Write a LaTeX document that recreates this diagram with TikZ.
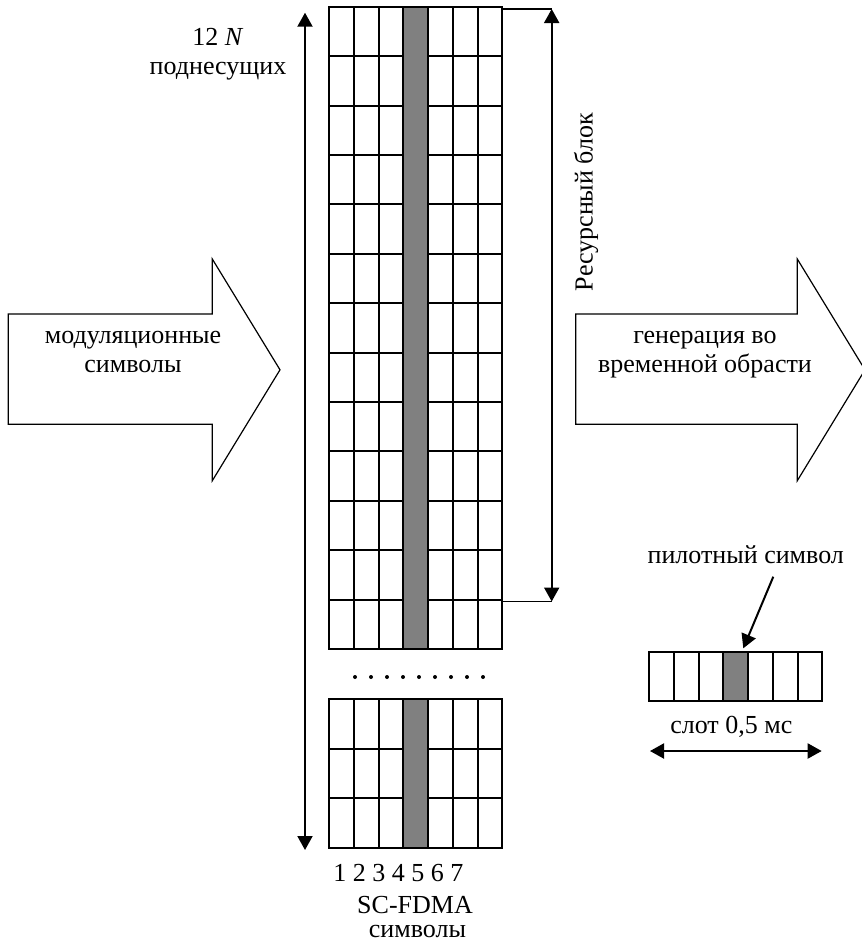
\documentclass[tikz,border=0pt]{standalone}
\usepackage{fontspec}
\setmainfont{Liberation Serif}
\usetikzlibrary{arrows.meta,calc}
\definecolor{pilotGray}{RGB}{128,128,128}
\tikzset{
  cell/.style={draw, line width=1pt},
  pilot/.style={draw, line width=1pt, fill=pilotGray},
  bigarrow/.style={draw, line width=0.6pt, fill=white},
  arrow/.style={-{Triangle[length=7pt,width=7.5pt]}, line width=1pt},
  dblarrow/.style={{Triangle[length=7pt,width=7.5pt]}-{Triangle[length=7pt,width=7.5pt]}, line width=1pt},
  tick/.style={line width=0.6pt},
  txt/.style={align=center, font=\fontsize{13}{14.5}\selectfont, inner sep=0pt}
}

\begin{document}
\begin{tikzpicture}[x=0.5pt,y=-0.5pt]
  \useasboundingbox (0,0) rectangle (862,950);

  \draw[bigarrow] (8.3,314) -- (212.3,314) -- (212.3,259) -- (280,369.8) -- (212.3,480.7) -- (212.3,424.3) -- (8.3,424.3) -- cycle;
  \draw[bigarrow] (575.7,314) -- (797.3,314) -- (797.3,259) -- (865,369.8) -- (797.3,480.7) -- (797.3,424.3) -- (575.7,424.3) -- cycle;
  \node[txt] (modsym) at (133,351.5) {модуляционные\\символы};
  \node[txt] (gentime) at (705,354.4) {генерация во\\временной обрасти};

  \foreach \r in {0,...,12}
    \foreach \c in {0,...,6}
      \draw[cell] ({329.3+24.7*\c},{6.7+49.4*\r}) rectangle ++(24.7,49.4);
  \draw[pilot] (403.4,6.7) rectangle (428.1,648.9);
  \foreach \r in {0,...,2}
    \foreach \c in {0,...,6}
      \draw[cell] ({329.3+24.7*\c},{699+49.7*\r}) rectangle ++(24.7,49.7);
  \draw[pilot] (403.4,699) rectangle (428.1,848.1);
  \foreach \i in {0,...,8}
    \fill ({355+16*\i},677) circle (1pt);

  \coordinate (ntop) at (305,12.7);
  \coordinate (nbot) at (305,850);
  \draw[dblarrow] (ntop) -- (nbot);
  \node[txt] (subcar) at (218,53.7) {12 \textit{N}\\поднесущих};

  \coordinate (rbtop) at (502.2,9);
  \coordinate (rbbot) at (502.2,601.5);
  \draw[tick] (rbtop) -- ++(49.5,0) coordinate (rbtopR);
  \draw[tick] (rbbot) -- ++(49.5,0) coordinate (rbbotR);
  \draw[dblarrow] (rbtopR) -- (rbbotR);
  \node[txt, rotate=90] (rbtxt) at (586,202) {Ресурсный блок};

  \node[txt, anchor=base] (nums) at (398.3,881.7) {1 2 3 4 5 6 7};
  \node[txt, anchor=base] (scfdma) at (415,913) {SC-FDMA};
  \node[txt, anchor=base] (symtxt) at (417.5,937) {символы};

  \foreach \c in {0,...,6}
    \draw[cell] ({649.3+24.7*\c},651.7) rectangle ++(24.7,49.3);
  \draw[pilot] (723.4,651.7) rectangle (748.1,701);
  \node[txt, anchor=base] (pilottxt) at (745.8,563.3) {пилотный символ};
  \coordinate (pilottip) at (743.3,648.3);
  \draw[arrow] ($(pilottxt.base)+(27.5,13.4)$) -- (pilottip);

  \node[txt, anchor=base] (slottxt) at (731.3,733.5) {слот 0,5 мс};
  \coordinate (slotL) at (650,751);
  \coordinate (slotR) at (821.7,751);
  \draw[dblarrow] (slotL) -- (slotR);
\end{tikzpicture}
\end{document}
